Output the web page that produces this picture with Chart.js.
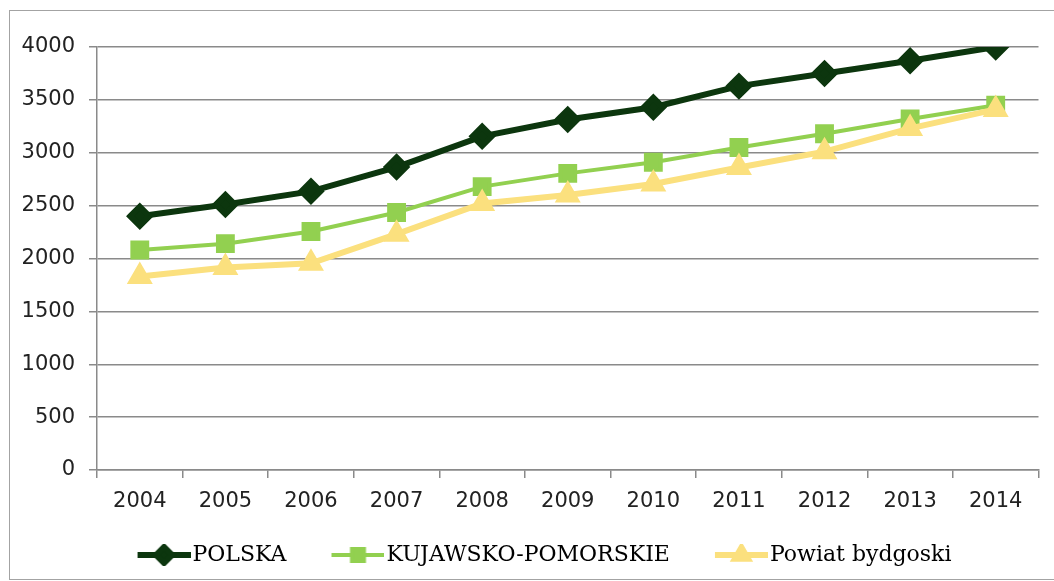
<!DOCTYPE html>
<html>
<head>
<meta charset="utf-8">
<script src="https://cdn.jsdelivr.net/npm/chart.js@4.4.0/dist/chart.umd.min.js"></script>
<style>
body { margin: 0; background: #fff; }
#frame { position: absolute; left: 9px; top: 10px; width: 1060px; height: 568px; border: 1px solid #a3a3a3; }
#myChart { position: absolute; left: 0; top: 0; }
</style>
</head>
<body>
<div id="frame"></div>
<canvas id="myChart" width="1054" height="581"></canvas>

<script>
// values
var years = ['2004', '2005', '2006', '2007', '2008', '2009', '2010', '2011', '2012', '2013', '2014'];
var polska = [2400, 2510, 2635, 2865, 3155, 3315, 3430, 3630, 3750, 3870, 4000];
var kujawsko = [2080, 2140, 2255, 2435, 2680, 2805, 2910, 3050, 3180, 3320, 3450];
var powiat = [1830, 1915, 1955, 2230, 2520, 2600, 2705, 2860, 3010, 3230, 3410];

var seriesNames = ['POLSKA', 'KUJAWSKO-POMORSKIE', 'Powiat bydgoski'];
var colors = ['#0c360e', '#92d050', '#fbe07e'];
var lineWidths = [6, 4, 6];
var markers = ['rectRot', 'rect', 'triangle'];
var markerSize = [9.5, 10.5, 9];
var legendMarkerSize = [8, 8.5, 7.5];

var padLeft = 13;
var boxW = 79;

// legend icon: short line with the marker in the middle
function makeIcon(i) {
  var c = document.createElement('canvas');
  c.width = boxW + 18;
  c.height = 22;
  var ctx = c.getContext('2d');
  ctx.strokeStyle = colors[i];
  ctx.lineWidth = lineWidths[i];
  ctx.beginPath();
  ctx.moveTo(c.width - 53, 11);
  ctx.lineTo(c.width, 11);
  ctx.stroke();
  ctx.fillStyle = colors[i];
  Chart.helpers.drawPoint(ctx, {pointStyle: markers[i], radius: legendMarkerSize[i], borderWidth: 1}, c.width - 26.5, 11);
  return c;
}
var icons = [makeIcon(0), makeIcon(1), makeIcon(2)];

var tickFont = {family: 'DejaVu Sans', size: 21};
var gridColor = '#8a8a8a';

new Chart('myChart', {
  type: 'line',
  data: {
    labels: years,
    datasets: [{
      label: seriesNames[0],
      data: polska,
      borderColor: colors[0],
      backgroundColor: colors[0],
      borderWidth: lineWidths[0],
      pointStyle: markers[0],
      pointRadius: markerSize[0],
      order: 2
    }, {
      label: seriesNames[1],
      data: kujawsko,
      borderColor: colors[1],
      backgroundColor: colors[1],
      borderWidth: lineWidths[1],
      pointStyle: markers[1],
      pointRadius: markerSize[1],
      order: 1
    }, {
      label: seriesNames[2],
      data: powiat,
      borderColor: colors[2],
      backgroundColor: colors[2],
      borderWidth: lineWidths[2],
      pointStyle: markers[2],
      pointRadius: markerSize[2],
      order: 0
    }]
  },
  options: {
    responsive: false,
    animation: false,
    events: [],
    layout: {padding: {left: padLeft, right: 13, top: 47, bottom: 5}},
    scales: {
      x: {
        offset: true,
        grid: {offset: true, drawOnChartArea: false, tickLength: 8, color: gridColor, lineWidth: 1.5},
        border: {color: gridColor, width: 1.5},
        ticks: {color: '#222', font: tickFont, padding: 11, maxRotation: 0, autoSkip: false},
        afterFit: function (s) { s.height = 64; }
      },
      y: {
        min: 0,
        max: 4000,
        grid: {color: gridColor, lineWidth: 1.5, tickLength: 8},
        border: {color: gridColor, width: 1.5},
        ticks: {
          stepSize: 500, color: '#222', font: tickFont, padding: 14,
          callback: function (v) { return String(v); }
        },
        afterFit: function (s) { s.width = 97 - padLeft; }
      }
    },
    plugins: {
      tooltip: {enabled: false},
      legend: {
        position: 'bottom',
        labels: {
          usePointStyle: true,
          pointStyleWidth: boxW,
          padding: 10,
          color: '#000',
          font: {family: 'DejaVu Serif', size: 22},
          generateLabels: function (chart) {
            return chart.data.datasets.map(function (ds, i) {
              return {
                text: ds.label,
                pointStyle: icons[i],
                datasetIndex: i,
                hidden: false,
                lineWidth: 0,
                fillStyle: 'rgba(0,0,0,0)',
                strokeStyle: 'rgba(0,0,0,0)',
                fontColor: '#000'
              };
            });
          }
        }
      }
    }
  }
});
</script>
</body>
</html>
